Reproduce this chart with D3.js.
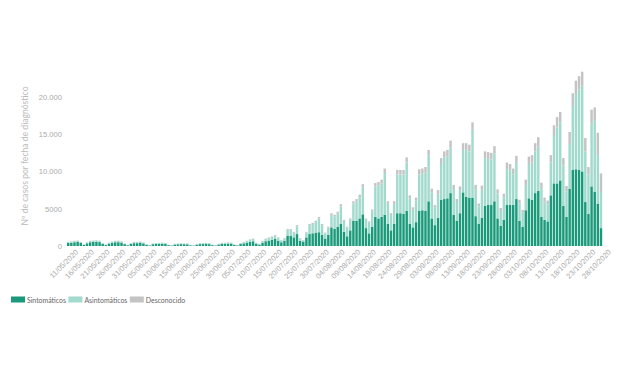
<!DOCTYPE html>
<html><head><meta charset="utf-8">
<script src="https://cdn.jsdelivr.net/npm/d3@7"></script>
<style>
body{margin:0;background:#fff;}
svg{display:block;font-family:Lato,"Noto Sans",sans-serif;}
</style>
</head><body>
<svg id="chart" width="620" height="368"></svg>
<script>
// ---- data ----
const startDate = "2020-05-11";
const endDate = "2020-10-28";
const seriesNames = ["Sintomáticos", "Asintomáticos", "Desconocido"];
const sintomaticos = [
400,450,500,540,400,150,360, 500,540,560,520,290,130,320, 440,500,510,460,250,110,280,
380,380,420,350,170,80,240, 270,280,300,270,120,70,200, 230,250,240,230,100,55,180,
250,260,270,250,120,65,200, 270,290,320,310,140,80,260, 350,450,570,630,290,190,440,
640,730,820,950,720,500,700, 1400,1340,1160,1600,700,600,1160, 1600,1700,1800,1850,1500,1000,1500,
2500,2300,2600,2950,1900,1300,2100, 3400,3400,3700,4250,2400,1700,2600, 3900,3700,3900,4200,3000,2100,3000,
4400,4400,4300,4700,3000,2500,3200, 4700,4800,4700,6000,3700,2800,3800, 6200,6300,6400,7100,4200,3400,4400,
7200,6600,6500,6500,4000,3000,3800, 5400,5500,5500,6000,3700,2700,3500, 5500,5500,5500,6300,3400,2550,4800,
6400,6200,7100,7400,3900,3500,3300, 6800,8400,8400,8800,5400,3900,7700, 10200,10300,10200,10000,5900,4300,8000,
7300,5700,2400
];
const asintomaticos = [
130,145,170,180,130,40,120, 170,180,190,170,95,40,110, 155,170,180,165,85,35,105,
150,150,155,130,70,35,95, 115,125,130,115,50,25,90, 105,115,105,105,45,20,90,
115,125,130,115,50,30,90, 130,140,160,150,70,35,120, 175,220,290,320,140,95,225,
310,360,410,470,370,260,340, 780,820,640,1050,300,160,640, 1200,1250,1430,1850,1300,700,970,
1680,1700,1770,2370,1420,1170,1420, 2300,2600,2850,3650,1120,1430,2050, 4100,4450,4500,5600,2650,2050,2650,
5200,5200,5300,6500,3400,2400,2900, 4900,4900,5200,6100,3500,2350,3200, 4800,5600,5650,6150,3450,2500,3100,
5700,6300,6200,9100,3650,2300,3750, 6400,6200,6100,6450,3350,2000,3000, 4850,4650,4100,4850,2300,1900,3400,
4600,5000,5600,6000,3900,2450,2300, 4400,6500,7500,7800,5400,3450,6000, 8600,10100,10800,11500,6800,5300,8400,
9600,6500,4850
];
const desconocido = [
20,25,30,30,20,10,20, 30,30,30,30,15,10,20, 25,30,30,25,15,5,15,
20,20,25,20,10,5,15, 15,15,20,15,10,5,10, 15,15,15,15,5,5,10,
15,15,20,15,10,5,10, 20,20,20,20,10,5,20, 25,30,40,50,20,15,35,
50,60,70,80,60,40,60, 120,120,100,150,50,40,100, 150,150,170,200,150,100,130,
220,200,230,280,180,130,180, 300,300,350,400,180,170,250, 450,450,500,600,350,250,350,
600,600,600,700,400,300,400, 700,700,700,800,500,350,500, 800,800,850,900,550,400,500,
900,900,900,1000,550,400,550, 900,900,900,950,550,400,500, 850,850,800,950,500,400,700,
1000,1000,1100,1200,700,550,500, 1000,1300,1400,1400,1000,700,1600, 1700,1800,1800,1900,1800,1000,1900,
1700,3000,2500
];
const xTickLabels = ["11/05/2020","16/05/2020","21/05/2020","26/05/2020","31/05/2020","05/06/2020","10/06/2020",
"15/06/2020","20/06/2020","25/06/2020","30/06/2020","05/07/2020","10/07/2020","15/07/2020","20/07/2020",
"25/07/2020","30/07/2020","04/08/2020","09/08/2020","14/08/2020","19/08/2020","24/08/2020","29/08/2020",
"03/09/2020","08/09/2020","13/09/2020","18/09/2020","23/09/2020","28/09/2020","03/10/2020","08/10/2020",
"13/10/2020","18/10/2020","23/10/2020","28/10/2020"];
const yTickValues = [0, 5000, 10000, 15000, 20000];
const yTickLabels = ["0", "5000", "10.000", "15.000", "20.000"];
const yTitle = "Nº de casos por fecha de diagnóstico";
const colors = ["#1a9a7b", "#a2dacd", "#c4c4c4"];

// ---- build ----
const parse = d3.utcParse("%Y-%m-%d");
const fmt = d3.utcFormat("%d/%m/%Y");
const dates = d3.utcDay.range(parse(startDate), d3.utcDay.offset(parse(endDate), 1)).map(fmt);
const rows = dates.map((d, i) => ({
  date: d,
  "Sintomáticos": sintomaticos[i],
  "Asintomáticos": asintomaticos[i],
  "Desconocido": desconocido[i]
}));
const stacked = d3.stack().keys(seriesNames)(rows);

const svg = d3.select("#chart");
const x = d3.scaleBand().domain(dates).range([67, 602.2]).paddingInner(0.22).paddingOuter(0);
const y = d3.scaleLinear().domain([0, 25000]).range([246, 59.75]);
const color = d3.scaleOrdinal().domain(seriesNames).range(colors);

svg.append("g").selectAll("g").data(stacked).join("g")
  .attr("fill", d => color(d.key))
  .selectAll("rect").data(d => d).join("rect")
  .attr("x", d => x(d.data.date))
  .attr("width", x.bandwidth())
  .attr("y", d => y(d[1]))
  .attr("height", d => y(d[0]) - y(d[1]));

// y axis
const yAxis = svg.append("g").attr("transform", "translate(64,0)")
  .call(d3.axisLeft(y).tickValues(yTickValues).tickFormat((d, i) => yTickLabels[i]).tickSize(0).tickPadding(2));
yAxis.select(".domain").remove();
yAxis.selectAll("text").attr("fill", "#aaaaaa").style("font-size", "7.6px");

// x axis
const xAxis = svg.append("g").attr("transform", "translate(0,251)")
  .call(d3.axisBottom(x).tickValues(xTickLabels).tickSize(0));
xAxis.select(".domain").remove();
xAxis.selectAll("text")
  .attr("x", 0).attr("y", 0).attr("dy", "0.3em")
  .attr("text-anchor", "end")
  .attr("transform", "translate(9,0) rotate(-45)")
  .attr("fill", "#aaaaaa").style("font-size", "7.5px");

// y title
svg.append("text")
  .attr("transform", "translate(28,156) rotate(-90)")
  .attr("text-anchor", "middle")
  .attr("fill", "#bbbbbb")
  .style("font-size", "8.6px")
  .text(yTitle);

// legend
const legend = svg.append("g").attr("transform", "translate(11,296.5)");
let lx = 0;
seriesNames.forEach((name, i) => {
  const g = legend.append("g").attr("transform", `translate(${lx},0)`);
  g.append("rect").attr("width", 14).attr("height", 6).attr("fill", colors[i]);
  const t = g.append("text").attr("x", 16).attr("y", 6).attr("fill", "#666666")
    .style("font-size", "6.9px").text(name);
  lx += 16 + t.node().getComputedTextLength() + 2.5;
});
</script>
</body></html>
